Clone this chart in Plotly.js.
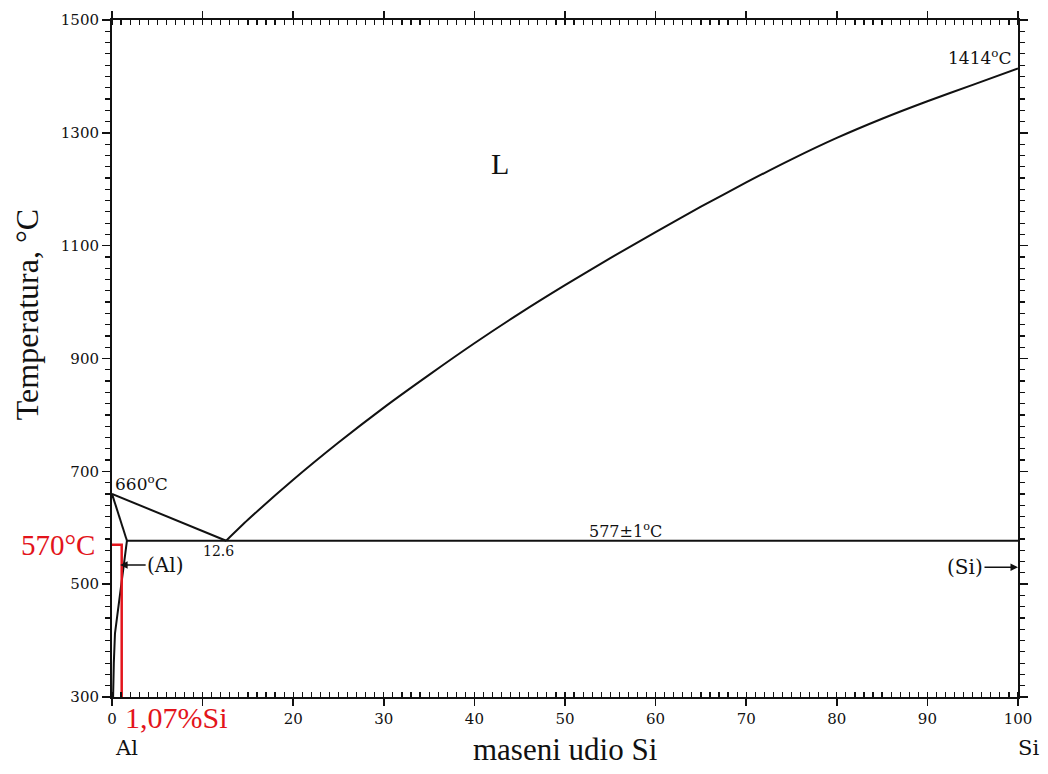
<!DOCTYPE html>
<html>
<head>
<meta charset="utf-8">
<script src="https://cdn.plot.ly/plotly-3.0.1.min.js"></script>
<style>html,body{margin:0;padding:0;background:#fff;}#chart{width:1048px;height:774px;}</style>
</head>
<body>
<div id="chart"></div>
<script>
// ---- data (wt% Si, temperature °C) ----
const liqAlX = [0, 12.6];
const liqAlT = [660, 577];
const solidusX = [0, 1.65];
const solidusT = [660, 577];
const solvusX = [1.65, 1.0, 0.33, 0.2, 0.12];
const solvusT = [577, 498, 413, 360, 300];
const eutX = [1.65, 100];
const eutT = [577, 577];
const liqSiX = [12.6, 15, 20, 25, 30, 35, 40, 45, 50, 55, 60, 65, 70, 75, 80, 85, 90, 95, 100];
const liqSiT = [577, 614, 685, 751, 813, 871, 927, 980, 1030, 1078, 1124, 1169, 1212, 1253, 1291, 1325, 1356, 1385, 1414];
const alloyX = [1.07, 1.07, 0];
const alloyT = [300, 570, 570];
const eutecticComp = 12.6;
const alTm = 660, siTm = 1414, eutTemp = 577;
const xTickStep = 10, yTickStart = 300, yTickStep = 200;
const xMinorStep = 1, yMinorStep = 20;

const black = '#111';
const red = '#e3141b';
const serif = 'DejaVu Serif, serif';
const serif2 = 'Liberation Serif, serif';

function line(x, y, color, w, shape) {
  return {x: x, y: y, type: 'scatter', mode: 'lines',
          line: {color: color, width: w, shape: shape || 'linear', smoothing: 0.6},
          hoverinfo: 'skip', showlegend: false};
}

const traces = [
  line(liqAlX, liqAlT, black, 2),
  line(solidusX, solidusT, black, 2),
  line(solvusX, solvusT, black, 2),
  line(eutX, eutT, black, 2),
  line(liqSiX, liqSiT, black, 2, 'spline'),
  line(alloyX, alloyT, red, 2.5)
];

const annFont = {family: serif, size: 16, color: black};
const layout = {
  width: 1048, height: 774,
  margin: {l: 112, r: 30, t: 20, b: 77},
  paper_bgcolor: '#fff', plot_bgcolor: '#fff',
  showlegend: false,
  xaxis: {
    range: [0, 100], tickmode: 'linear', tick0: 0, dtick: xTickStep,
    labelalias: {'10': ''},   // "10" is covered by the red label in the original
    ticks: 'outside', ticklen: 7, tickwidth: 1.5, tickcolor: black,
    showline: true, linecolor: black, linewidth: 2, mirror: 'ticks',
    showgrid: false, zeroline: false,
    tickfont: {family: serif, size: 15, color: black},
    minor: {tickmode: 'linear', tick0: 0, dtick: xMinorStep, ticks: 'inside', ticklen: 5, tickcolor: black, tickwidth: 1.2, showgrid: false}
  },
  yaxis: {
    range: [300, 1500], tickmode: 'linear', tick0: yTickStart, dtick: yTickStep,
    ticks: 'outside', ticklen: 8, tickwidth: 1.5, tickcolor: black,
    showline: true, linecolor: black, linewidth: 2, mirror: 'ticks',
    showgrid: false, zeroline: false,
    tickfont: {family: serif, size: 15, color: black},
    minor: {tickmode: 'linear', tick0: yTickStart, dtick: yMinorStep, ticks: 'outside', ticklen: 5, tickcolor: black, tickwidth: 1.2, showgrid: false}
  },
  annotations: [
    {xref: 'paper', yref: 'paper', x: 0.5, y: -0.078, xanchor: 'center', yanchor: 'middle', showarrow: false,
     text: 'maseni udio Si', font: {family: serif2, size: 31, color: black}},
    {xref: 'paper', yref: 'paper', x: -0.093, y: 0.565, xanchor: 'center', yanchor: 'middle', showarrow: false, textangle: -90,
     text: 'Temperatura, °C', font: {family: serif2, size: 32, color: black}},
    {xref: 'x', yref: 'paper', x: 0, y: -0.075, xanchor: 'left', yanchor: 'middle', xshift: 1, showarrow: false,
     text: 'Al', font: {family: serif, size: 21, color: black}},
    {xref: 'x', yref: 'paper', x: 100, y: -0.075, xanchor: 'left', yanchor: 'middle', xshift: -2, showarrow: false,
     text: 'Si', font: {family: serif, size: 21, color: black}},
    {xref: 'x', yref: 'y', x: 42.8, y: 1246, showarrow: false, text: 'L', font: {family: serif2, size: 30, color: black}},
    {xref: 'x', yref: 'y', x: 0.1, y: alTm, xanchor: 'left', yanchor: 'bottom', showarrow: false, yshift: -2,
     text: alTm + '<sup>o</sup>C', font: {family: serif, size: 17, color: black}},
    {xref: 'x', yref: 'y', x: eutecticComp, y: eutTemp, xanchor: 'center', yanchor: 'top', xshift: -8, showarrow: false,
     text: String(eutecticComp), font: {family: serif, size: 14, color: black}},
    {xref: 'x', yref: 'y', x: 56.7, y: eutTemp, xanchor: 'center', yanchor: 'bottom', showarrow: false, yshift: -2,
     text: eutTemp + '±1<sup>o</sup>C', font: annFont},
    {xref: 'x', yref: 'y', x: 99.5, y: siTm, xanchor: 'right', yanchor: 'bottom', showarrow: false, yshift: -1,
     text: siTm + '<sup>o</sup>C', font: {family: serif, size: 17, color: black}},
    {xref: 'x', yref: 'y', x: 0.9, y: 534, showarrow: true, arrowhead: 2, arrowsize: 1, arrowwidth: 1.5, arrowcolor: black,
     ax: 45, ay: 0, standoff: 0, text: '(Al)', font: {family: serif, size: 20, color: black}},
    {xref: 'x', yref: 'y', x: 100, y: 530, showarrow: true, arrowhead: 2, arrowsize: 1, arrowwidth: 1.5, arrowcolor: black,
     ax: -53, ay: 0, standoff: 0, text: '(Si)', font: {family: serif, size: 20, color: black}},
    {xref: 'paper', yref: 'y', x: -0.0166, y: alloyT[1], xanchor: 'right', yanchor: 'middle', showarrow: false,
     text: alloyT[1] + '°C', font: {family: serif2, size: 29, color: red}},
    {xref: 'x', yref: 'paper', x: 1.2, y: -0.031, xanchor: 'left', yanchor: 'middle', showarrow: false,
     text: '1,07%Si', font: {family: serif2, size: 30, color: red}}
  ]
};

Plotly.newPlot('chart', traces, layout, {displayModeBar: false, staticPlot: true});
</script>
</body>
</html>
